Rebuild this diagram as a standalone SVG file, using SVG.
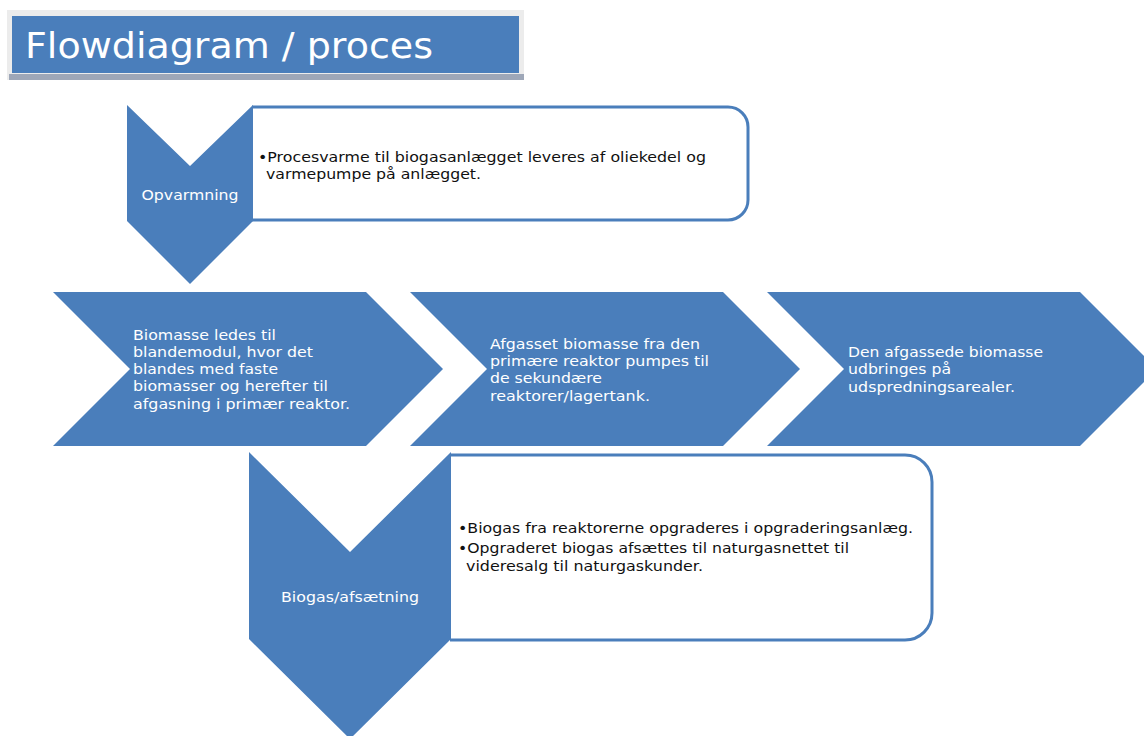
<svg xmlns="http://www.w3.org/2000/svg" width="1144" height="736" viewBox="0 0 1144 736">
<style>
.blue{fill:#4A7EBB;}
.box{fill:#ffffff;stroke:#4A7EBB;stroke-width:3;}
.wt{fill:#ffffff;font-family:"DejaVu Sans","Liberation Sans",sans-serif;font-size:14px;}
.lbl{fill:#ffffff;font-family:"DejaVu Sans","Liberation Sans",sans-serif;font-size:14px;text-anchor:middle;}
.bt{fill:#111111;font-family:"DejaVu Sans","Liberation Sans",sans-serif;font-size:14px;}
</style>
<rect width="1144" height="736" fill="#ffffff"/>
<g id="title">
<rect x="7" y="10" width="517" height="70" fill="#ececec"/>
<rect x="9" y="74" width="515" height="6" fill="#9ea7b8"/>
<rect x="12" y="16" width="507" height="57" class="blue"/>
<text x="25" y="58" fill="#ffffff" font-family="DejaVu Sans, Liberation Sans, sans-serif" font-size="35" textLength="408" lengthAdjust="spacingAndGlyphs">Flowdiagram / proces</text>
</g>
<g id="connectors"></g>
<g id="opvarmning">
<path class="box" d="M252,107 H728 A20,20 0 0 1 748,127 V200 A20,20 0 0 1 728,220 H252"/>
<polygon class="blue" points="127,105 190,166 253,105 253,221 190,284 127,221"/>
<text class="lbl" x="190" y="200" textLength="97" lengthAdjust="spacingAndGlyphs">Opvarmning</text>
<text class="bt" x="258" y="162" textLength="448" lengthAdjust="spacingAndGlyphs">•Procesvarme til biogasanlægget leveres af oliekedel og</text>
<text class="bt" x="266" y="179" textLength="215" lengthAdjust="spacingAndGlyphs">varmepumpe på anlægget.</text>
</g>
<g id="step1">
<polygon class="blue" points="53,292 366,292 443,369 366,446 53,446 130,369"/>
<text class="wt" x="133" y="340" textLength="143" lengthAdjust="spacingAndGlyphs">Biomasse ledes til</text>
<text class="wt" x="133" y="357" textLength="180" lengthAdjust="spacingAndGlyphs">blandemodul, hvor det</text>
<text class="wt" x="133" y="374" textLength="145" lengthAdjust="spacingAndGlyphs">blandes med faste</text>
<text class="wt" x="133" y="391" textLength="195" lengthAdjust="spacingAndGlyphs">biomasser og herefter til</text>
<text class="wt" x="133" y="409" textLength="217" lengthAdjust="spacingAndGlyphs">afgasning i primær reaktor.</text>
</g>
<g id="step2">
<polygon class="blue" points="410,292 723,292 800,369 723,446 410,446 487,369"/>
<text class="wt" x="490" y="349" textLength="210" lengthAdjust="spacingAndGlyphs">Afgasset biomasse fra den</text>
<text class="wt" x="490" y="366" textLength="219" lengthAdjust="spacingAndGlyphs">primære reaktor pumpes til</text>
<text class="wt" x="490" y="383" textLength="112" lengthAdjust="spacingAndGlyphs">de sekundære</text>
<text class="wt" x="490" y="401" textLength="160" lengthAdjust="spacingAndGlyphs">reaktorer/lagertank.</text>
</g>
<g id="step3">
<polygon class="blue" points="767,292 1080,292 1157,369 1080,446 767,446 844,369"/>
<text class="wt" x="848" y="357" textLength="195" lengthAdjust="spacingAndGlyphs">Den afgassede biomasse</text>
<text class="wt" x="848" y="374" textLength="103" lengthAdjust="spacingAndGlyphs">udbringes på</text>
<text class="wt" x="848" y="392" textLength="167" lengthAdjust="spacingAndGlyphs">udspredningsarealer.</text>
</g>
<g id="biogas">
<path class="box" d="M450,455 H905 A27,27 0 0 1 932,482 V613 A27,27 0 0 1 905,640 H450"/>
<polygon class="blue" points="249,452 350,552 451,452 451,639 350,739 249,639"/>
<text class="lbl" x="350" y="602" textLength="138" lengthAdjust="spacingAndGlyphs">Biogas/afsætning</text>
<text class="bt" x="458" y="533" textLength="455" lengthAdjust="spacingAndGlyphs">•Biogas fra reaktorerne opgraderes i opgraderingsanlæg.</text>
<text class="bt" x="458" y="553" textLength="391" lengthAdjust="spacingAndGlyphs">•Opgraderet biogas afsættes til naturgasnettet til</text>
<text class="bt" x="466" y="571" textLength="237" lengthAdjust="spacingAndGlyphs">videresalg til naturgaskunder.</text>
</g>
</svg>
